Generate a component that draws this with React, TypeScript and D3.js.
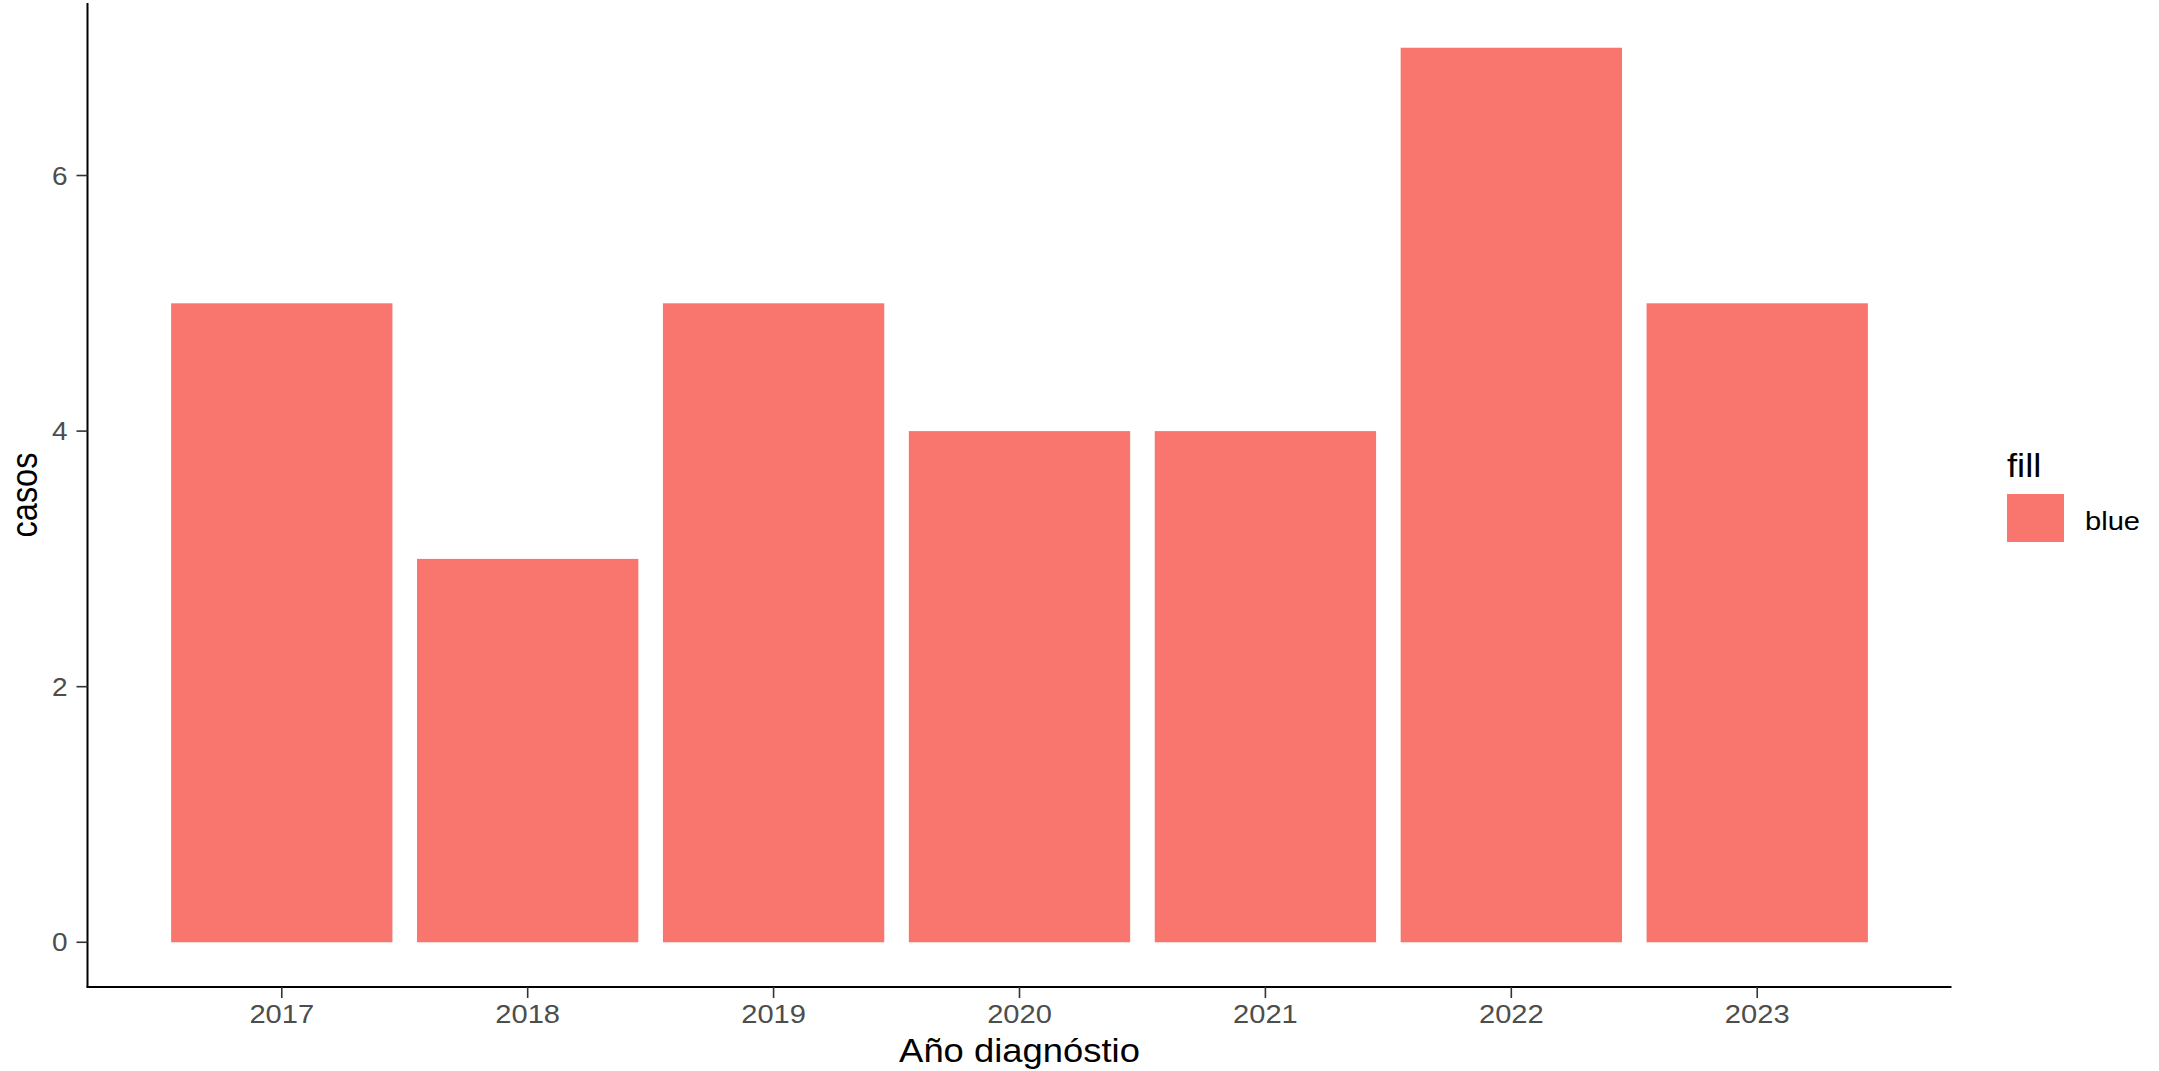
import React from "react";
import * as d3 from "d3";

const years = ["2017", "2018", "2019", "2020", "2021", "2022", "2023"];
const casos = [5, 3, 5, 4, 4, 7, 5];
const yTicks = [0, 2, 4, 6];
const legendTitle = "fill";
const legendLabel = "blue";
const xTitle = "Año diagnóstio";
const yTitle = "casos";

const W = 2159;
const H = 1071;
const panel = { left: 87.5, right: 1951.5, top: 3, bottom: 987 };
const BAR = "#F8766D";
const SX = 1.12;
const FONT = "'Liberation Sans', Arial, sans-serif";

export default function App() {
  const x = d3
    .scaleBand<string>()
    .domain(years)
    .range([panel.left, panel.right])
    .paddingInner(0.1)
    .paddingOuter(0.34);
  const y = d3.scaleLinear().domain([-0.35, 7.35]).range([panel.bottom, panel.top]);

  const T = (px: number, py: number, extra = "") =>
    `translate(${px},${py}) scale(${SX},1) ${extra}`;

  return (
    <svg
      width={W}
      height={H}
      style={{ position: "absolute", left: 0, top: 0, display: "block", background: "#fff" }}
      fontFamily={FONT}
    >
      <rect x={0} y={0} width={W} height={H} fill="#fff" />
      {years.map((yr, i) => (
        <rect
          key={yr}
          x={x(yr)!}
          y={y(casos[i])}
          width={x.bandwidth()}
          height={y(0) - y(casos[i])}
          fill={BAR}
        />
      ))}
      {/* axes */}
      <line x1={panel.left} x2={panel.left} y1={panel.top} y2={panel.bottom} stroke="#000" strokeWidth={2} />
      <line x1={panel.left - 1} x2={panel.right} y1={panel.bottom} y2={panel.bottom} stroke="#000" strokeWidth={2} />
      {yTicks.map((t) => (
        <g key={t}>
          <line x1={panel.left - 11} x2={panel.left} y1={y(t)} y2={y(t)} stroke="#333" strokeWidth={1.6} />
          <text
            transform={T(panel.left - 20, y(t))}
            textAnchor="end"
            dy="0.36em"
            fontSize={25}
            fill="#4D4D4D"
          >
            {t}
          </text>
        </g>
      ))}
      {years.map((yr) => {
        const cx = x(yr)! + x.bandwidth() / 2;
        return (
          <g key={yr}>
            <line x1={cx} x2={cx} y1={panel.bottom} y2={panel.bottom + 11} stroke="#333" strokeWidth={1.6} />
            <text transform={T(cx, 1023)} textAnchor="middle" fontSize={26} fill="#4D4D4D">
              {yr}
            </text>
          </g>
        );
      })}
      <text transform={T((panel.left + panel.right) / 2, 1062)} textAnchor="middle" fontSize={32.5} fill="#000">
        {xTitle}
      </text>
      <text
        transform={`translate(37,${(panel.top + panel.bottom) / 2}) scale(${SX},1) rotate(-90)`}
        textAnchor="middle"
        fontSize={32.5}
        fill="#000"
      >
        {yTitle}
      </text>
      {/* legend */}
      <text transform={T(2007, 477)} fontSize={32.5} fill="#000">
        {legendTitle}
      </text>
      <rect x={2007} y={494} width={57} height={48} fill={BAR} />
      <text transform={T(2085, 530)} fontSize={26} fill="#000">
        {legendLabel}
      </text>
    </svg>
  );
}
